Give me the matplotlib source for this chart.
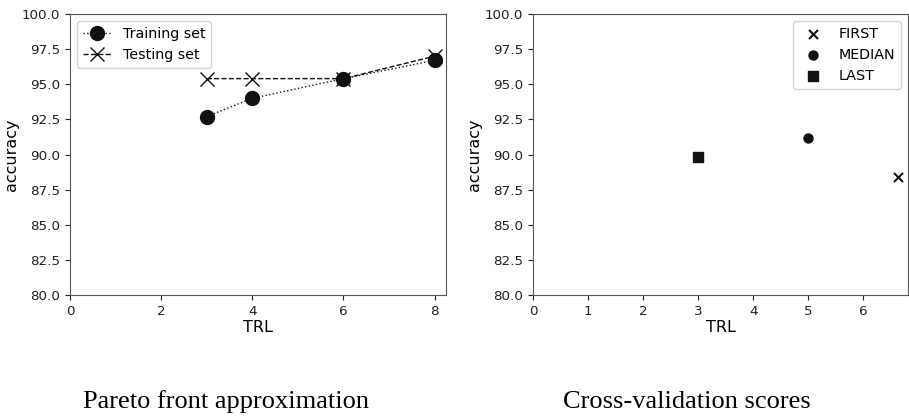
import matplotlib
matplotlib.use("Agg")
import matplotlib.pyplot as plt

# Pareto front approximation
trl_front = [3, 4, 6, 8]
acc_train = [92.7, 94.0, 95.4, 96.7]
acc_test = [95.4, 95.4, 95.4, 97.0]

# Cross-validation scores
cv_labels = ["FIRST", "MEDIAN", "LAST"]
cv_trl = [6.63, 5.0, 3.0]
cv_acc = [88.4, 91.15, 89.8]
cv_markers = ["x", "o", "s"]

plt.rcParams["font.size"] = 10
color = "#111111"

fig = plt.figure(figsize=(9.09, 4.17), dpi=100)
ax1 = fig.add_axes([70 / 909, 1 - 295 / 417, 376 / 909, 281 / 417])
ax2 = fig.add_axes([533 / 909, 1 - 295 / 417, 375 / 909, 281 / 417])

ax1.plot(trl_front, acc_train, ":", color=color, marker="o", markersize=10,
         linewidth=1, label="Training set")
ax1.plot(trl_front, acc_test, "--", color=color, marker="x", markersize=10,
         linewidth=1, label="Testing set")
ax1.set_xlim(0, 8.25)
ax1.set_ylim(80, 100)
ax1.set_xticks([0, 2, 4, 6, 8])
ax1.legend(loc="upper left", fontsize=10.3)

for lab, x, y, m in zip(cv_labels, cv_trl, cv_acc, cv_markers):
    ax2.scatter([x], [y], marker=m, color=color, s=42, label=lab)
ax2.set_xlim(0, cv_trl[0] + 0.05 * (cv_trl[0] - cv_trl[2]))
ax2.set_ylim(80, 100)
ax2.set_xticks([0, 1, 2, 3, 4, 5, 6])
ax2.legend(loc="upper right", fontsize=10.3)

for ax in (ax1, ax2):
    ax.set_xlabel("TRL", fontsize=11.5, labelpad=2)
    ax.set_ylabel("accuracy", fontsize=11.5, labelpad=2)
    ax.tick_params(labelsize=9.7, colors="#222222")
    for s in ax.spines.values():
        s.set_color("#555555")

fig.text(226 / 909, 1 - 408 / 417, "Pareto front approximation",
         family="Liberation Serif", fontsize=19, ha="center", va="baseline")
fig.text(687 / 909, 1 - 408 / 417, "Cross-validation scores",
         family="Liberation Serif", fontsize=19, ha="center", va="baseline")

fig.savefig("out.png", dpi=100)
